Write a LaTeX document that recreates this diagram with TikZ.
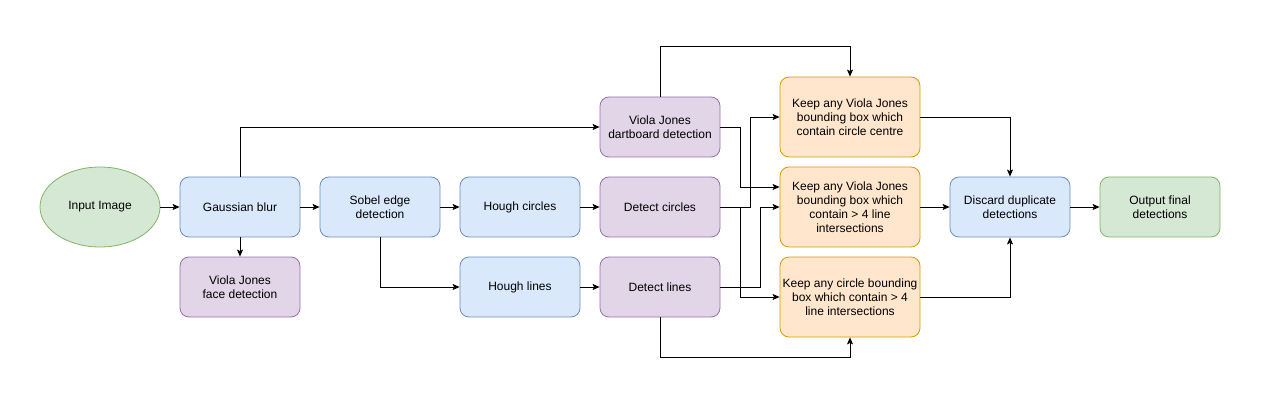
\documentclass[tikz,border=0pt]{standalone}
\usepackage{fontspec}
\setmainfont{Liberation Sans}
\usetikzlibrary{arrows.meta,shapes.geometric}
\definecolor{bluefill}{HTML}{DAE8FC}\definecolor{bluedraw}{HTML}{6C8EBF}
\definecolor{purpfill}{HTML}{E1D5E7}\definecolor{purpdraw}{HTML}{9673A6}
\definecolor{orfill}{HTML}{FFE6CC}\definecolor{ordraw}{HTML}{D79B00}
\definecolor{grfill}{HTML}{D5E8D4}\definecolor{grdraw}{HTML}{82B366}
\tikzset{
  base/.style={rounded corners=9pt, minimum width=120pt, minimum height=60pt, inner sep=0pt, align=center, font=\fontsize{12}{14}\selectfont, line width=0.8pt},
  bluebox/.style={base, fill=bluefill, draw=bluedraw},
  purpbox/.style={base, fill=purpfill, draw=purpdraw},
  orbox/.style={base, fill=orfill, draw=ordraw, minimum width=140pt, minimum height=80pt},
  grbox/.style={base, fill=grfill, draw=grdraw},
  arr/.style={-{Stealth[length=7pt,width=6pt,inset=1.5pt]}, line width=0.9pt},
}
\begin{document}
\begin{tikzpicture}[x=1pt,y=-1pt]
\useasboundingbox (0,0) rectangle (1261,406);
\node[ellipse, fill=grfill, draw=grdraw, line width=0.8pt, minimum width=120pt, minimum height=80pt, inner sep=0pt, font=\fontsize{12}{14}\selectfont] (input) at (100,207) {Input Image};
\node[bluebox] (gauss) at (240,207) {Gaussian blur};
\node[purpbox] (face) at (240,287) {Viola Jones\\face detection};
\node[bluebox] (sobel) at (380,207) {Sobel edge\\detection};
\node[bluebox] (hc) at (520,207) {Hough circles};
\node[bluebox] (hl) at (520,287) {Hough lines};
\node[purpbox] (dart) at (660,127) {Viola Jones\\dartboard detection};
\node[purpbox] (dc) at (660,207) {Detect circles};
\node[purpbox] (dl) at (660,287) {Detect lines};
\node[orbox] (k1) at (850,117) {Keep any Viola Jones\\bounding box which\\contain circle centre};
\node[orbox] (k2) at (850,207) {Keep any Viola Jones\\bounding box which\\contain > 4 line\\intersections};
\node[orbox] (k3) at (850,297) {Keep any circle bounding\\box which contain > 4\\line intersections};
\node[bluebox] (disc) at (1010,207) {Discard duplicate\\detections};
\node[grbox] (out) at (1160,207) {Output final\\detections};

\draw[arr] (input) -- (gauss);
\draw[arr] (gauss) -- (sobel);
\draw[arr] (gauss) -- (face);
\draw[arr] (sobel) -- (hc);
\draw[arr] (hc) -- (dc);
\draw[arr] (hl) -- (dl);
\draw[arr] (sobel.south) |- (hl.west);
\draw[arr] (gauss.north) |- (dart.west);
\draw[arr] (dart.north) -- ++(0,-50) -| (k1.north);
\draw[arr] (dart.east) -- ([xshift=20pt]dart.east) |- ([yshift=20pt]k2.west);
\draw[arr] (dc.east) -- ([xshift=30pt]dc.east) |- (k1.west);
\draw[arr] (dc.east) -- ([xshift=20pt]dc.east) |- (k3.west);
\draw[arr] (dl.east) -- ([xshift=40pt]dl.east) |- (k2.west);
\draw[arr] (dl.south) -- ++(0,40) -| (k3.south);
\draw[arr] (k1.east) -| (disc.north);
\draw[arr] (k2) -- (disc);
\draw[arr] (k3.east) -| (disc.south);
\draw[arr] (disc) -- (out);
\end{tikzpicture}
\end{document}
